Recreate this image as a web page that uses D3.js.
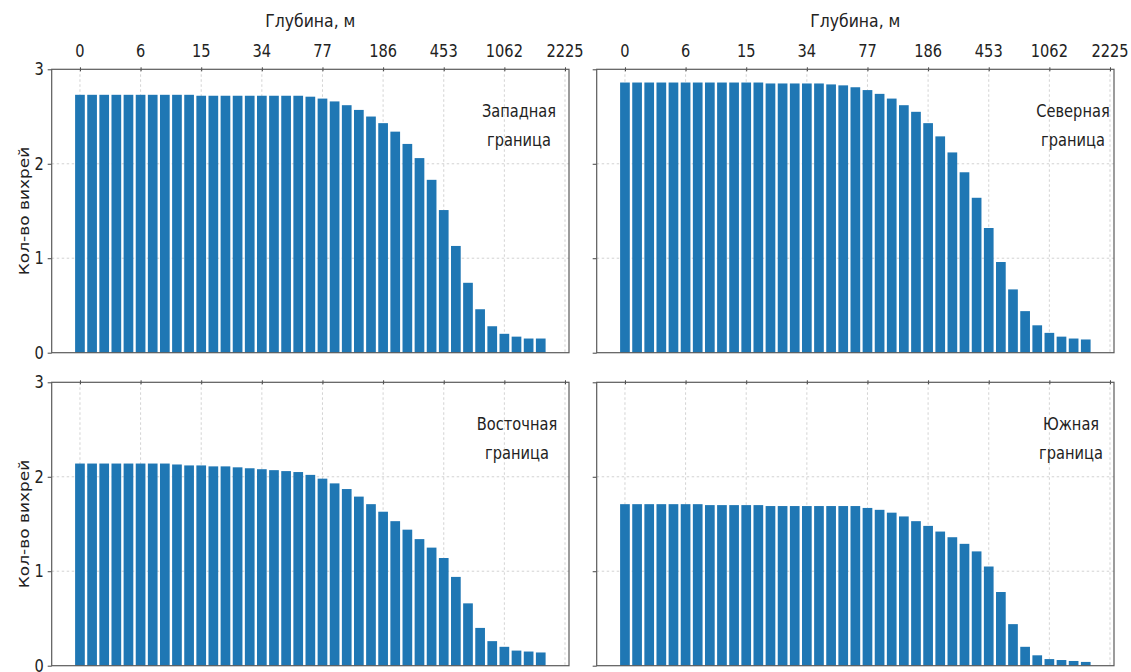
<!DOCTYPE html>
<html>
<head>
<meta charset="utf-8">
<script src="https://cdn.jsdelivr.net/npm/d3@7"></script>
<style>
  body { margin: 0; background: #fff; }
  svg { display: block; }
  text { font-family: "DejaVu Sans", sans-serif; fill: #222; }
</style>
</head>
<body>
<svg id="chart" width="1131" height="672"></svg>
<script>
// подписи глубин (каждый 5-й уровень)
const depthLabels = ["0", "6", "15", "34", "77", "186", "453", "1062", "2225"];
const yTicks = [0, 1, 2, 3];

// средние значения кол-ва вихрей по уровням (39 уровней)
const westValues = [2.73, 2.73, 2.73, 2.73, 2.73, 2.73, 2.73, 2.73, 2.73, 2.73,
  2.72, 2.72, 2.72, 2.72, 2.72, 2.72, 2.72, 2.72, 2.72, 2.71,
  2.69, 2.66, 2.62, 2.57, 2.50, 2.43, 2.34, 2.21, 2.06, 1.83,
  1.51, 1.13, 0.74, 0.46, 0.28, 0.20, 0.17, 0.15, 0.15];
const northValues = [2.86, 2.86, 2.86, 2.86, 2.86, 2.86, 2.86, 2.86, 2.86, 2.86,
  2.86, 2.86, 2.85, 2.85, 2.85, 2.85, 2.85, 2.84, 2.83, 2.81,
  2.78, 2.74, 2.69, 2.62, 2.55, 2.43, 2.29, 2.12, 1.91, 1.64,
  1.32, 0.96, 0.67, 0.44, 0.29, 0.21, 0.17, 0.15, 0.14];
const eastValues = [2.14, 2.14, 2.14, 2.14, 2.14, 2.14, 2.14, 2.14, 2.13, 2.12,
  2.12, 2.11, 2.11, 2.10, 2.09, 2.08, 2.07, 2.06, 2.05, 2.02,
  1.98, 1.93, 1.87, 1.79, 1.71, 1.63, 1.53, 1.44, 1.34, 1.25,
  1.14, 0.94, 0.66, 0.40, 0.26, 0.20, 0.16, 0.15, 0.14];
const southValues = [1.71, 1.71, 1.71, 1.71, 1.71, 1.71, 1.71, 1.70, 1.70, 1.70,
  1.70, 1.70, 1.69, 1.69, 1.69, 1.69, 1.69, 1.69, 1.69, 1.69,
  1.67, 1.65, 1.62, 1.58, 1.53, 1.48, 1.42, 1.36, 1.29, 1.21,
  1.05, 0.78, 0.44, 0.20, 0.11, 0.07, 0.06, 0.05, 0.04];

const panels = [
  { values: westValues, name: ["Западная", "граница"], col: 0, row: 0, tx: 519 },
  { values: northValues, name: ["Северная", "граница"], col: 1, row: 0, tx: 1073 },
  { values: eastValues, name: ["Восточная", "граница"], col: 0, row: 1, tx: 517 },
  { values: southValues, name: ["Южная", "граница"], col: 1, row: 1, tx: 1071 },
];

const svg = d3.select("#chart");
const lefts = [51.7, 596.7];
const tops = [69.3, 382.3];
const width = 517.3;
const height = 283.4;
const sx = 0.86; // горизонтальное сжатие текста как в исходнике
const fs = 17;

const x = d3.scaleLinear().domain([-2.33, 40.33]).range([0, width]);
const y = d3.scaleLinear().domain([0, 3]).range([height, 0]);

function label(g, tx, ty, str, anchor, k) {
  return g.append("text")
    .attr("transform", `translate(${tx},${ty}) scale(${k || sx},1)`)
    .attr("text-anchor", anchor)
    .attr("font-size", fs)
    .text(str);
}

panels.forEach((p) => {
  const g = svg.append("g")
    .attr("transform", `translate(${lefts[p.col]},${tops[p.row]})`);

  // сетка
  const grid = g.append("g")
    .attr("stroke", "#c8c8c8")
    .attr("stroke-width", 0.8)
    .attr("stroke-dasharray", "2.5,2.5");
  grid.selectAll(".gx")
    .data(depthLabels)
    .join("line")
    .attr("x1", (d, i) => x(i * 5))
    .attr("x2", (d, i) => x(i * 5))
    .attr("y1", 0)
    .attr("y2", height);
  grid.selectAll(".gy")
    .data(yTicks.slice(1, 3))
    .join("line")
    .attr("x1", 0)
    .attr("x2", width)
    .attr("y1", (d) => y(d))
    .attr("y2", (d) => y(d));

  // столбцы
  g.append("g")
    .selectAll("rect")
    .data(p.values)
    .join("rect")
    .attr("x", (d, i) => x(i - 0.4))
    .attr("width", x(0.8) - x(0))
    .attr("y", (d) => y(d))
    .attr("height", (d) => y(0) - y(d))
    .attr("fill", "#1f77b4");

  // оси: верхняя с подписями глубин, левая с числом вихрей
  const xAxis = d3.axisTop(x)
    .tickValues(depthLabels.map((d, i) => i * 5))
    .tickSize(4)
    .tickFormat("");
  g.append("g")
    .call(xAxis)
    .call((a) => a.select(".domain").remove())
    .selectAll("line")
    .attr("stroke", "#444")
    .attr("transform", "translate(0,2)");

  const yAxis = d3.axisLeft(y).tickValues(yTicks).tickSize(4).tickFormat("");
  g.append("g")
    .call(yAxis)
    .call((a) => a.select(".domain").remove())
    .selectAll("line")
    .attr("stroke", "#444");

  // рамка
  g.append("rect")
    .attr("width", width)
    .attr("height", height)
    .attr("fill", "none")
    .attr("stroke", "#5a5a5a")
    .attr("stroke-width", 1.2);

  if (p.row === 0) {
    depthLabels.forEach((d, i) => {
      label(g, x(i * 5), -12, d, "middle");
    });
    label(g, width / 2, -42, "Глубина, м", "middle", 0.92);
  }
  if (p.col === 0) {
    yTicks.forEach((d) => {
      label(g, -8, y(d) + 6, d, "end");
    });
    g.append("text")
      .attr("transform", `translate(-23,${height / 2}) rotate(-90) scale(1,${sx})`)
      .attr("text-anchor", "middle")
      .attr("font-size", fs)
      .text("Кол-во вихрей");
  }

  // название границы
  const cx = p.tx - lefts[p.col];
  label(g, cx, 48, p.name[0], "middle");
  label(g, cx, 77, p.name[1], "middle");
});
</script>
</body>
</html>
